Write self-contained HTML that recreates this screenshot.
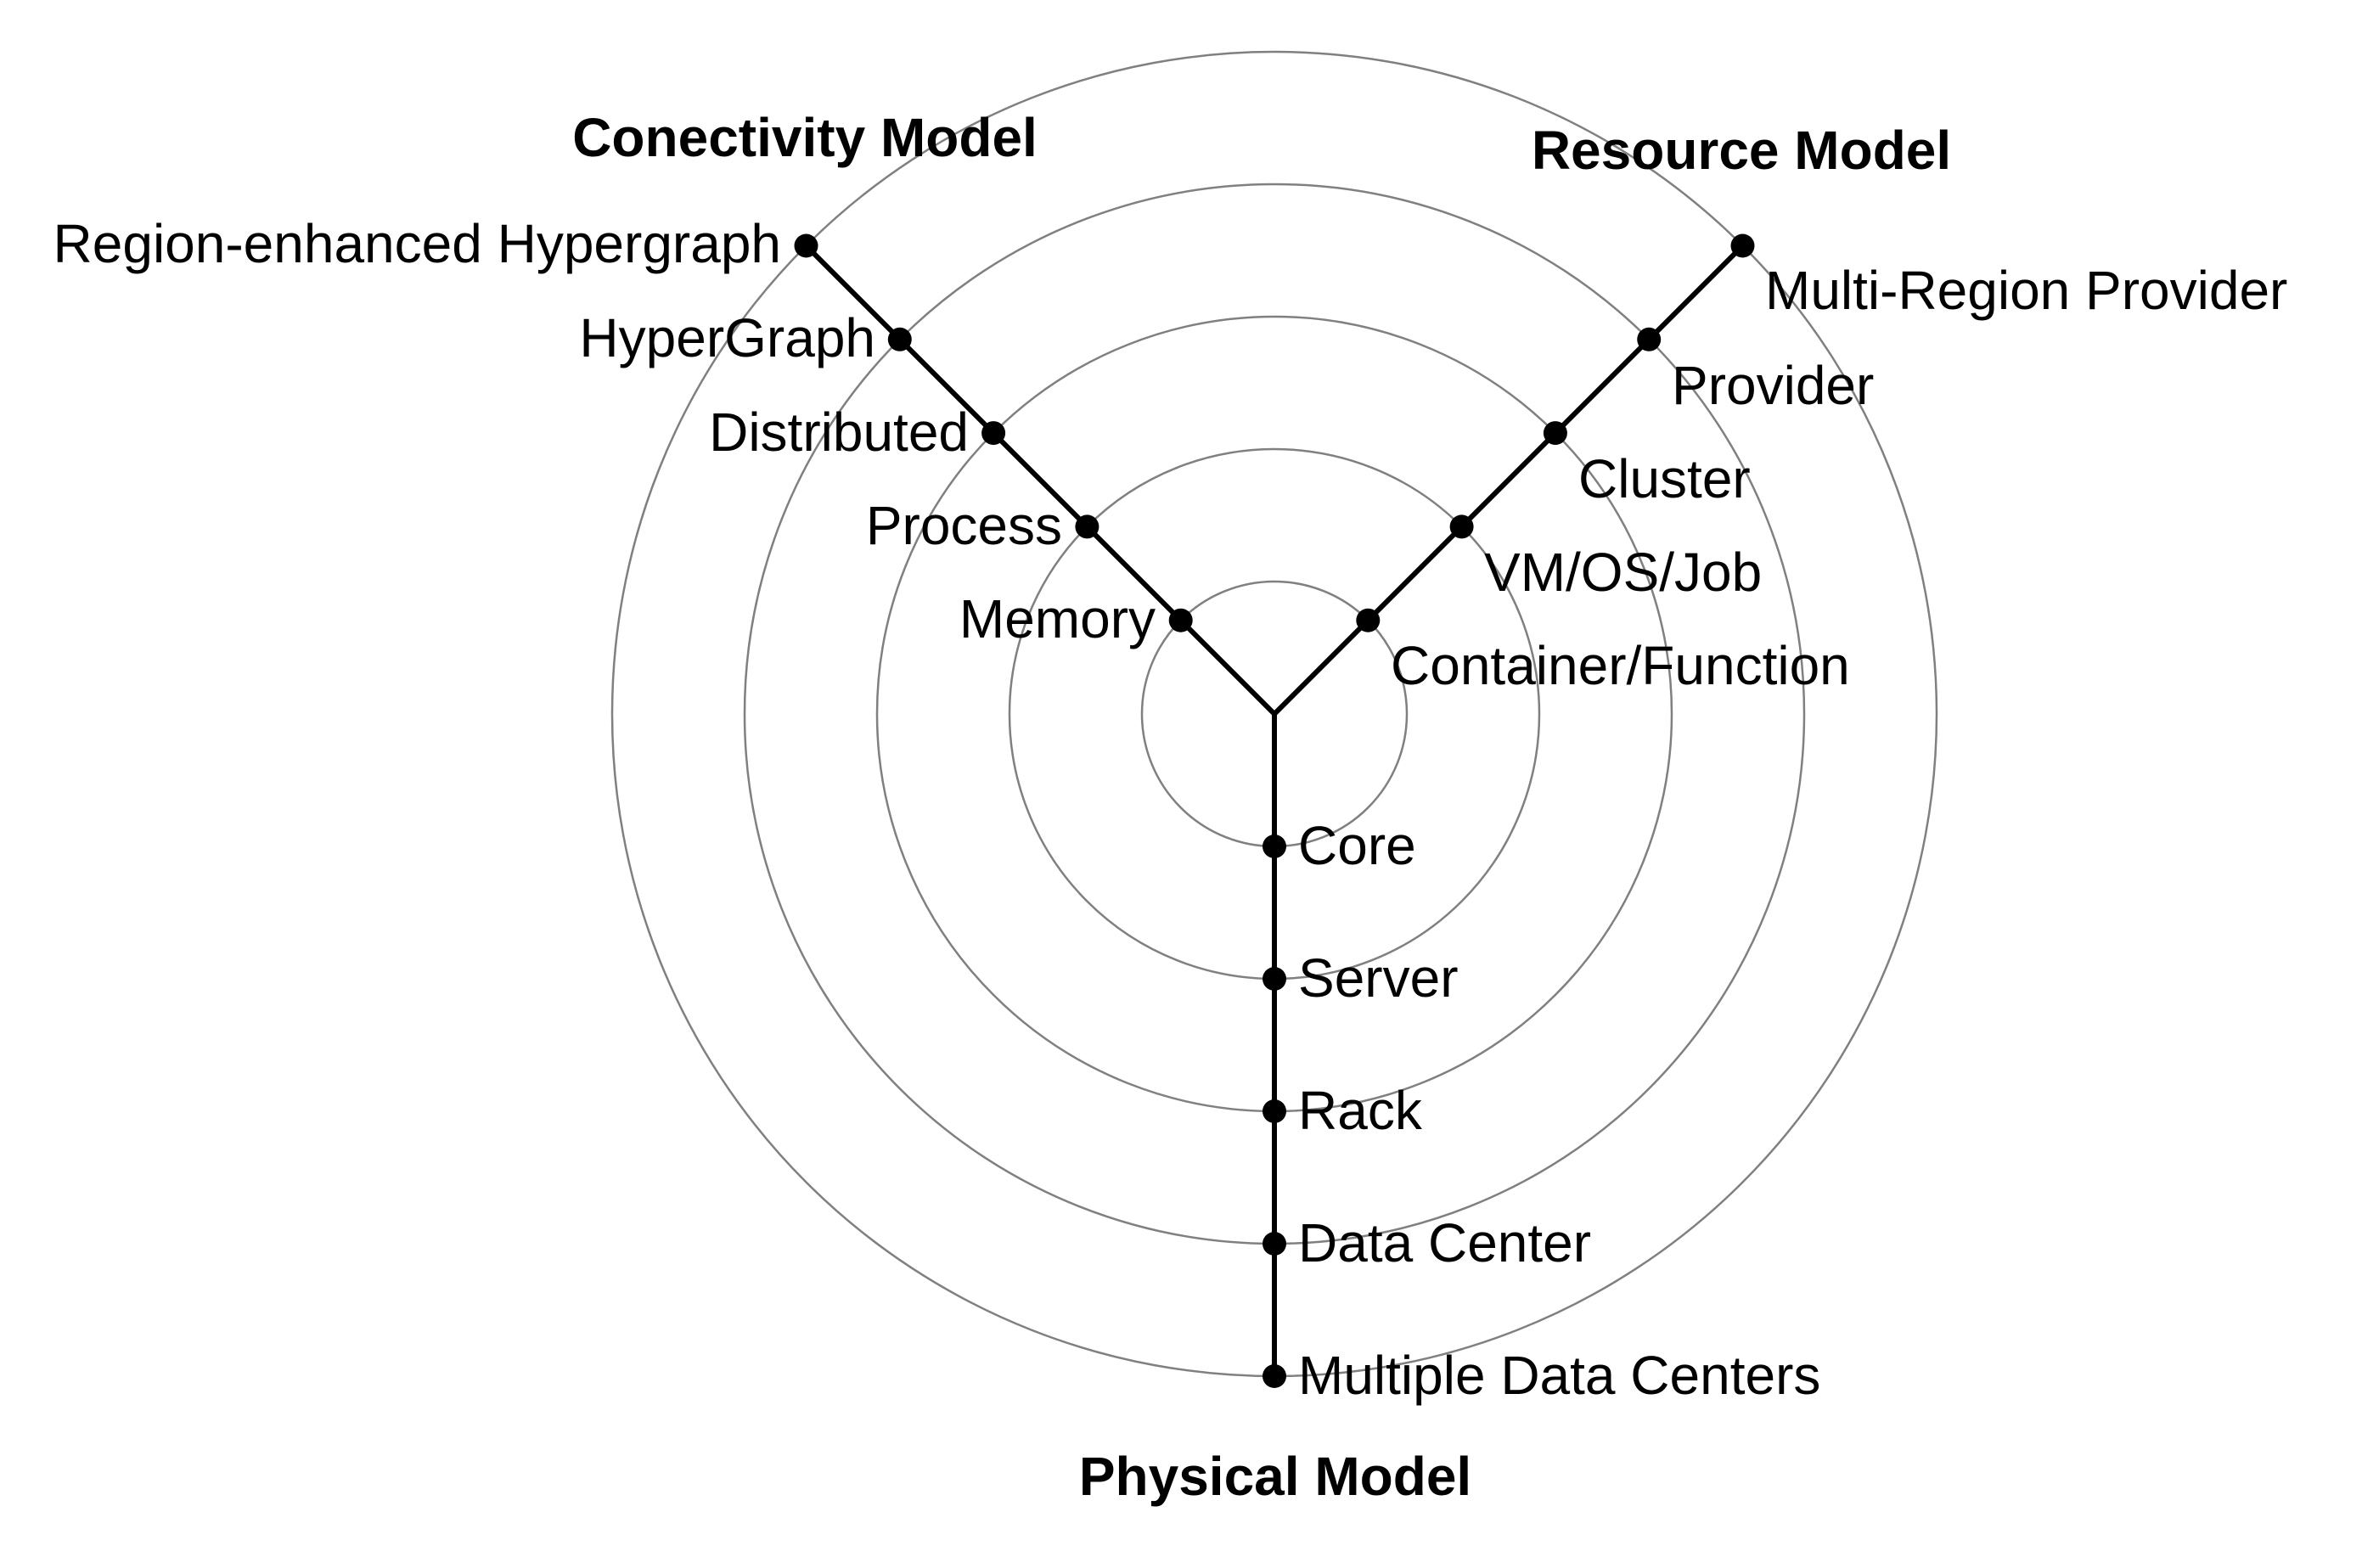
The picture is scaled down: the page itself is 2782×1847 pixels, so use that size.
<!DOCTYPE html>
<html><head><meta charset="utf-8"><style>html,body{margin:0;padding:0;background:#fff}</style></head>
<body>
<svg width="2782" height="1842" viewBox="0 0 2782 1842" xmlns="http://www.w3.org/2000/svg" font-family="'Liberation Sans', Arial, sans-serif" font-size="64">
<rect width="2782" height="1842" fill="#fff"/>
<g fill="none" stroke="#808080" stroke-width="2.5">
<circle cx="1501" cy="841" r="156"/>
<circle cx="1501" cy="841" r="312"/>
<circle cx="1501" cy="841" r="468"/>
<circle cx="1501" cy="841" r="624"/>
<circle cx="1501" cy="841" r="780"/>
</g>
<g stroke="#000" stroke-width="6" fill="none" stroke-linejoin="miter">
<polyline points="949.5,289.5 1501,841 2052.5,289.5"/>
<line x1="1501" y1="841" x2="1501" y2="1621"/>
</g>
<g fill="#000">
<circle cx="1390.7" cy="730.7" r="14"/>
<circle cx="1280.4" cy="620.4" r="14"/>
<circle cx="1170.1" cy="510.1" r="14"/>
<circle cx="1059.8" cy="399.8" r="14"/>
<circle cx="949.5" cy="289.5" r="14"/>
<circle cx="1611.3" cy="730.7" r="14"/>
<circle cx="1721.6" cy="620.4" r="14"/>
<circle cx="1831.9" cy="510.1" r="14"/>
<circle cx="1942.2" cy="399.8" r="14"/>
<circle cx="2052.5" cy="289.5" r="14"/>
<circle cx="1501" cy="997" r="14"/>
<circle cx="1501" cy="1153" r="14"/>
<circle cx="1501" cy="1309" r="14"/>
<circle cx="1501" cy="1465" r="14"/>
<circle cx="1501" cy="1621" r="14"/>
</g>
<g fill="#000" text-anchor="end">
<text x="1361" y="751">Memory</text>
<text x="1251" y="641">Process</text>
<text x="1141" y="531">Distributed</text>
<text x="1031" y="420">HyperGraph</text>
<text x="920" y="309">Region-enhanced Hypergraph</text>
</g>
<g fill="#000">
<text x="1638" y="806">Container/Function</text>
<text x="1748" y="696">VM/OS/Job</text>
<text x="1859" y="586">Cluster</text>
<text x="1969" y="476">Provider</text>
<text x="2079" y="364">Multi-Region Provider</text>
<text x="1529" y="1018">Core</text>
<text x="1529" y="1174">Server</text>
<text x="1529" y="1330">Rack</text>
<text x="1529" y="1486">Data Center</text>
<text x="1529" y="1642">Multiple Data Centers</text>
</g>
<g fill="#000" font-weight="bold" text-anchor="middle">
<text x="948" y="184">Conectivity Model</text>
<text x="2051" y="199">Resource Model</text>
<text x="1502" y="1761">Physical Model</text>
</g>
</svg>
</body></html>
